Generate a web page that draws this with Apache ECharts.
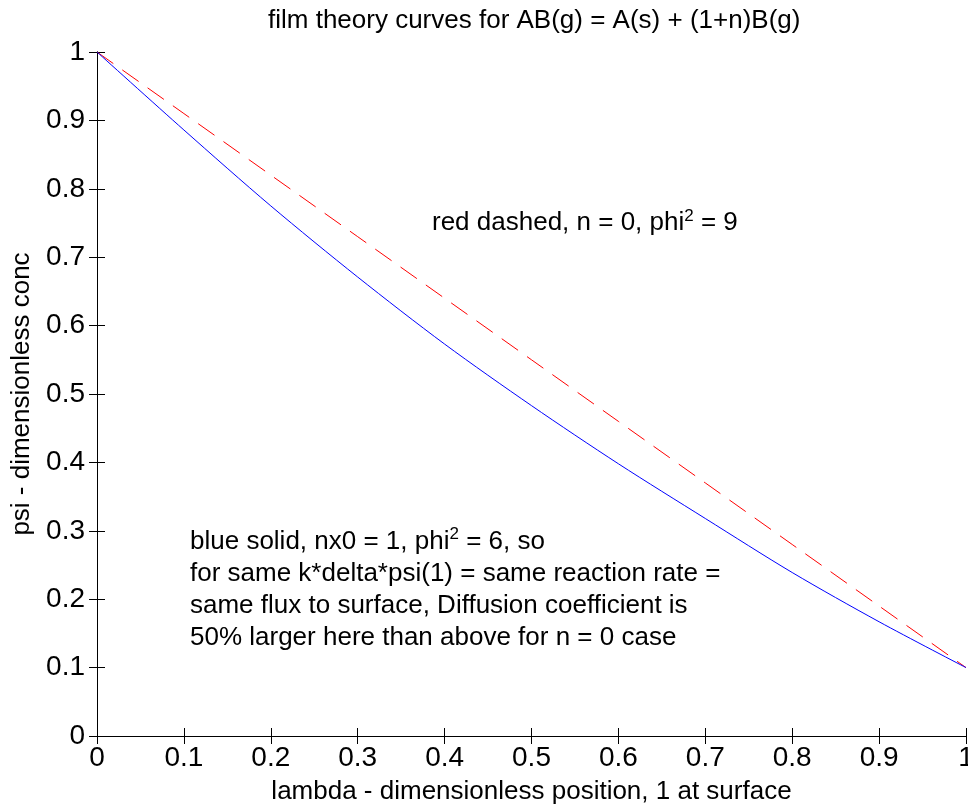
<!DOCTYPE html>
<html>
<head>
<meta charset="utf-8">
<title>film theory curves</title>
<script src="https://cdn.jsdelivr.net/npm/echarts@6/dist/echarts.min.js"></script>
<style>
  html, body { margin: 0; padding: 0; background: #fff; }
  #main { width: 968px; height: 807px; }
</style>
</head>
<body>
<div id="main"></div>
<script>
// lambda positions and psi values
var lambda = [0, 0.1, 0.2, 0.3, 0.4, 0.5, 0.6, 0.7, 0.8, 0.9, 1];
var psiRed = [1, 0.91, 0.82, 0.73, 0.64, 0.55, 0.46, 0.37, 0.28, 0.19, 0.1];   // n = 0, phi^2 = 9
var psiBlue = [1, 0.886, 0.775, 0.671, 0.573, 0.483, 0.398, 0.318, 0.239, 0.167, 0.1]; // nx0 = 1, phi^2 = 6

var FONT = 'Arial, "Liberation Sans", sans-serif';

function pairs(xs, ys) {
  return xs.map(function (x, i) { return [x, ys[i]]; });
}

var chart = echarts.init(document.getElementById('main'));

var supStyle = { fontSize: 17, verticalAlign: 'top', padding: [0, 0, 12, 0] };

var option = {
  backgroundColor: '#fff',
  animation: false,
  textStyle: { fontFamily: FONT, color: '#000' },
  title: {
    text: 'film theory curves for AB(g) = A(s) + (1+n)B(g)',
    left: 263,
    top: 3,
    textStyle: { fontFamily: FONT, fontSize: 26, fontWeight: 'normal', color: '#000' }
  },
  grid: { left: 97, right: 2, top: 52, bottom: 71, outerBoundsMode: 'none' },
  xAxis: [{
    type: 'value', min: 0, max: 1, interval: 0.1,
    name: 'lambda - dimensionless position, 1 at surface',
    nameLocation: 'middle', nameGap: 43,
    nameTextStyle: { fontSize: 26, color: '#000' },
    axisLine: { lineStyle: { color: '#000', width: 1 } },
    axisTick: { inside: true, length: 8, lineStyle: { color: '#000' } },
    axisLabel: { fontSize: 28, color: '#000', margin: 8 },
    splitLine: { show: false }
  }, {
    type: 'value', min: 0, max: 1, interval: 0.1, position: 'top',
    axisLine: { lineStyle: { color: '#000', width: 1 } },
    axisTick: { inside: true, length: 8, lineStyle: { color: '#000' } },
    axisLabel: { show: false },
    splitLine: { show: false }
  }],
  yAxis: [{
    type: 'value', min: 0, max: 1, interval: 0.1,
    name: 'psi - dimensionless conc',
    nameLocation: 'middle', nameGap: 57,
    nameTextStyle: { fontSize: 26, color: '#000' },
    axisLine: { show: true, lineStyle: { color: '#000', width: 1 } },
    axisTick: { show: true, inside: true, length: 8, lineStyle: { color: '#000' } },
    axisLabel: { fontSize: 28, color: '#000', margin: 12 },
    splitLine: { show: false }
  }, {
    type: 'value', min: 0, max: 1, interval: 0.1, position: 'right',
    axisLine: { show: true, lineStyle: { color: '#000', width: 1 } },
    axisTick: { show: true, inside: true, length: 8, lineStyle: { color: '#000' } },
    axisLabel: { show: false },
    splitLine: { show: false }
  }],
  series: [{
    name: 'red dashed',
    type: 'line',
    data: pairs(lambda, psiRed),
    showSymbol: false,
    lineStyle: { color: '#ff0000', width: 1, type: [20, 11] },
    z: 3
  }, {
    name: 'blue solid',
    type: 'line',
    data: pairs(lambda, psiBlue),
    smooth: 0.3,
    showSymbol: false,
    lineStyle: { color: '#0000ff', width: 1 },
    z: 4
  }],
  graphic: [{
    type: 'text',
    left: 432, top: 208,
    style: {
      text: 'red dashed, n = 0, phi{sup|2} = 9',
      font: '26px ' + FONT,
      fill: '#000',
      rich: { sup: supStyle }
    }
  }, {
    type: 'text',
    left: 190, top: 526,
    style: {
      text: 'blue solid, nx0 = 1, phi{sup|2} = 6, so\n' +
            'for same k*delta*psi(1) = same reaction rate =\n' +
            'same flux to surface, Diffusion coefficient is\n' +
            '50% larger here than above for n = 0 case',
      font: '26px ' + FONT,
      lineHeight: 32,
      fill: '#000',
      rich: { sup: supStyle }
    }
  }]
};

chart.setOption(option);
</script>
</body>
</html>
